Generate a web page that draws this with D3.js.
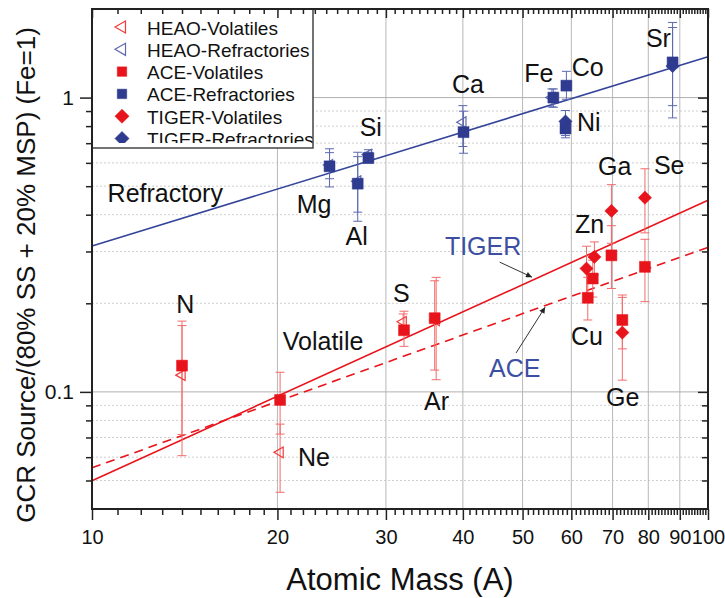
<!DOCTYPE html>
<html>
<head>
<meta charset="utf-8">
<script src="https://cdn.jsdelivr.net/npm/d3@7"></script>
<style>
  body { margin: 0; background: #fff; }
  svg { font-family: "Liberation Sans", Arial, sans-serif; }
</style>
</head>
<body>
<svg id="chart" width="725" height="598"></svg>
<script>
// ---- data (atomic mass a, ratio v, error bar lo/hi) ----
const heaoVolatiles = [
  {el: 'N',  a: 14.0, v: 0.114,  lo: 0.0607, hi: 0.168},
  {el: 'Ne', a: 20.2, v: 0.0623, lo: 0.0456, hi: 0.0777},
  {el: 'S',  a: 32.0, v: 0.173,  lo: 0.160,  hi: 0.184},
  {el: 'Ar', a: 36.2, v: 0.175,  lo: 0.110,  hi: 0.245}
];
const heaoRefractories = [
  {el: 'Mg', a: 24.3, v: 0.59,  lo: 0.53,  hi: 0.65},
  {el: 'Al', a: 27.0, v: 0.52,  lo: 0.408, hi: 0.63},
  {el: 'Si', a: 28.1, v: 0.64,  lo: 0.61,  hi: 0.665},
  {el: 'Ca', a: 40.0, v: 0.825, lo: 0.682, hi: 0.939},
  {el: 'Fe', a: 55.8, v: 1.0,   lo: 0.93,  hi: 1.07}
];
const aceVolatiles = [
  {el: 'N',  a: 14.0, v: 0.1228, lo: 0.0716, hi: 0.174},
  {el: 'Ne', a: 20.2, v: 0.0939, lo: 0.0719, hi: 0.1166},
  {el: 'S',  a: 32.1, v: 0.162,  lo: 0.1428, hi: 0.188},
  {el: 'Ar', a: 36.0, v: 0.178,  lo: 0.1186, hi: 0.2385},
  {el: 'Cu', a: 63.8, v: 0.2088, lo: 0.1755, hi: 0.245},
  {el: 'Zn', a: 65.0, v: 0.2428, lo: 0.21,   hi: 0.28},
  {el: 'Ga', a: 69.7, v: 0.291,  lo: 0.2246, hi: 0.367},
  {el: 'Ge', a: 72.6, v: 0.1755, lo: 0.14,   hi: 0.2095},
  {el: 'Se', a: 79.0, v: 0.266,  lo: 0.2026, hi: 0.33}
];
const aceRefractories = [
  {el: 'Mg', a: 24.3, v: 0.584, lo: 0.497, hi: 0.670},
  {el: 'Al', a: 27.0, v: 0.51,  lo: 0.38,  hi: 0.652},
  {el: 'Si', a: 28.1, v: 0.623, lo: 0.60,  hi: 0.652},
  {el: 'Ca', a: 40.1, v: 0.763, lo: 0.647, hi: 0.899},
  {el: 'Fe', a: 56.1, v: 1.0,   lo: 0.927, hi: 1.07},
  {el: 'Co', a: 58.9, v: 1.098, lo: 0.987, hi: 1.228},
  {el: 'Ni', a: 58.7, v: 0.785, lo: 0.730, hi: 0.84},
  {el: 'Sr', a: 87.6, v: 1.317, lo: 0.853, hi: 1.80}
];
const tigerVolatiles = [
  {el: 'Cu', a: 63.5, v: 0.2625, lo: 0.215,  hi: 0.3126},
  {el: 'Zn', a: 65.4, v: 0.2875, lo: 0.25,   hi: 0.3233},
  {el: 'Ga', a: 69.7, v: 0.412,  lo: 0.32,   hi: 0.506},
  {el: 'Ge', a: 72.6, v: 0.159,  lo: 0.1096, hi: 0.2134},
  {el: 'Se', a: 79.0, v: 0.457,  lo: 0.347,  hi: 0.573}
];
const tigerRefractories = [
  {el: 'Ni', a: 58.7, v: 0.83, lo: 0.743, hi: 0.904},
  {el: 'Sr', a: 87.6, v: 1.28, lo: 0.939, hi: 1.73}
];

// power-law fits, end points [A, ratio]
const refractoryFit = [[10, 0.313], [100, 1.377]];
const tigerFit = [[10, 0.0499], [100, 0.448]];
const aceFit = [[10, 0.0552], [100, 0.310]];

// axis ticks
const xMajor = [10, 20, 30, 40, 50, 60, 70, 80, 90, 100];
const xTickLabels = ['10', '20', '30', '40', '50', '60', '70', '80', '90', '100'];
const xMinor = d3.range(11, 100).filter(d => d % 10 !== 0);
const yMajor = [0.1, 1];
const yTickLabels = ['0.1', '1'];
const yMinor = [0.05, 0.06, 0.07, 0.08, 0.09, 0.2, 0.3, 0.4, 0.5, 0.6, 0.7, 0.8, 0.9];

// text annotations, anchored in data space (left/baseline)
const elementLabels = [
  {t: 'N', a: 13.7, v: 0.1853}, {t: 'Ne', a: 21.6, v: 0.0561},
  {t: 'S', a: 30.8, v: 0.202}, {t: 'Ar', a: 34.6, v: 0.0869},
  {t: 'Mg', a: 21.5, v: 0.404}, {t: 'Al', a: 25.8, v: 0.315},
  {t: 'Si', a: 27.2, v: 0.738}, {t: 'Ca', a: 38.4, v: 1.04},
  {t: 'Fe', a: 50.3, v: 1.133}, {t: 'Co', a: 60.1, v: 1.187},
  {t: 'Ni', a: 61.3, v: 0.773}, {t: 'Sr', a: 79.3, v: 1.489},
  {t: 'Ga', a: 66.3, v: 0.544}, {t: 'Se', a: 81.7, v: 0.548},
  {t: 'Zn', a: 60.8, v: 0.346}, {t: 'Cu', a: 59.9, v: 0.1443},
  {t: 'Ge', a: 68.3, v: 0.0897},
  {t: 'Refractory', a: 10.6, v: 0.441}, {t: 'Volatile', a: 20.4, v: 0.1388}
];
const fitLabels = [
  {t: 'TIGER', a: 37.4, v: 0.291, from: [45.9, 0.276], to: [51.8, 0.2454]},
  {t: 'ACE', a: 44.1, v: 0.1124, from: [48.8, 0.1356], to: [54.4, 0.194]}
];

// ---- styles ----
const red = '#e8141b', redBar = '#f36b6b';
const blue = '#2e3b8f', blueBar = '#5d69af';

const series = [
  {name: 'HEAO-Volatiles', data: heaoVolatiles, shape: 'tri', color: '#f03c3c', bar: redBar},
  {name: 'HEAO-Refractories', data: heaoRefractories, shape: 'tri', color: '#5d69af', bar: blueBar},
  {name: 'ACE-Volatiles', data: aceVolatiles, shape: 'square', color: red, bar: redBar},
  {name: 'ACE-Refractories', data: aceRefractories, shape: 'square', color: blue, bar: blueBar},
  {name: 'TIGER-Volatiles', data: tigerVolatiles, shape: 'diamond', color: red, bar: redBar},
  {name: 'TIGER-Refractories', data: tigerRefractories, shape: 'diamond', color: blue, bar: blueBar}
];

// ---- set up plot area ----
const svg = d3.select('#chart');
const margin = {top: 9, right: 17, bottom: 89, left: 92};
const width = 725 - margin.left - margin.right;
const height = 598 - margin.top - margin.bottom;

const g = svg.append('g')
  .attr('transform', `translate(${margin.left},${margin.top})`);

const x = d3.scaleLog().domain([10, 100]).range([0, width]);
const y = d3.scaleLog().domain([0.04, 2]).range([height, 0]);

// grid
g.append('g').selectAll('line')
  .data(yMinor).join('line')
  .attr('x1', 0).attr('x2', width)
  .attr('y1', d => y(d)).attr('y2', d => y(d))
  .attr('stroke', '#cfcfcf').attr('stroke-dasharray', '2,2');
g.append('g').selectAll('line')
  .data(xMajor.slice(1, -1)).join('line')
  .attr('x1', d => x(d)).attr('x2', d => x(d))
  .attr('y1', 0).attr('y2', height)
  .attr('stroke', '#b8b8b8');
g.append('g').selectAll('line')
  .data(yMajor).join('line')
  .attr('x1', 0).attr('x2', width)
  .attr('y1', d => y(d)).attr('y2', d => y(d))
  .attr('stroke', '#b0b0b0');

// fit lines
const line = d3.line().x(d => x(d[0])).y(d => y(d[1]));
g.append('path').datum(refractoryFit).attr('d', line)
  .attr('fill', 'none').attr('stroke', '#34449a').attr('stroke-width', 1.6);
g.append('path').datum(tigerFit).attr('d', line)
  .attr('fill', 'none').attr('stroke', red).attr('stroke-width', 1.6);
g.append('path').datum(aceFit).attr('d', line)
  .attr('fill', 'none').attr('stroke', red).attr('stroke-width', 1.6)
  .attr('stroke-dasharray', '9,6');

// error bars
series.forEach(s => {
  const eb = g.append('g').attr('stroke', s.bar).attr('stroke-width', 1);
  eb.selectAll('.stem').data(s.data).join('line')
    .attr('x1', d => x(d.a)).attr('x2', d => x(d.a))
    .attr('y1', d => y(d.lo)).attr('y2', d => y(d.hi));
  eb.selectAll('.cap').data(s.data.flatMap(d => [[d.a, d.lo], [d.a, d.hi]])).join('line')
    .attr('x1', d => x(d[0]) - 4.5).attr('x2', d => x(d[0]) + 4.5)
    .attr('y1', d => y(d[1])).attr('y2', d => y(d[1]));
});

// markers
function symbolFor(shape) {
  if (shape === 'square') return {path: d3.symbol(d3.symbolSquare, 120)(), rot: 0, fill: true};
  if (shape === 'diamond') return {path: d3.symbol(d3.symbolSquare, 88)(), rot: 45, fill: true};
  return {path: d3.symbol(d3.symbolTriangle, 50)(), rot: -90, fill: false};
}
function drawMark(sel, s) {
  const sym = symbolFor(s.shape);
  sel.attr('d', sym.path)
    .attr('fill', sym.fill ? s.color : 'none')
    .attr('stroke', s.color)
    .attr('stroke-width', sym.fill ? 0.5 : 1.2);
}
series.forEach(s => {
  const rot = symbolFor(s.shape).rot;
  g.append('g').selectAll('path').data(s.data).join('path')
    .call(sel => drawMark(sel, s))
    .attr('transform', d => `translate(${x(d.a)},${y(d.v)}) rotate(${rot})`);
});

// labels
g.append('g').selectAll('text').data(elementLabels).join('text')
  .attr('x', d => x(d.a)).attr('y', d => y(d.v))
  .attr('font-size', 25).attr('fill', '#111')
  .text(d => d.t);

svg.append('defs').append('marker')
  .attr('id', 'arrow').attr('viewBox', '0 0 10 10')
  .attr('refX', 10).attr('refY', 5)
  .attr('markerWidth', 10).attr('markerHeight', 6)
  .attr('markerUnits', 'userSpaceOnUse')
  .attr('orient', 'auto')
  .append('path').attr('d', 'M0,0L10,5L0,10z').attr('fill', '#222');

g.append('g').selectAll('text').data(fitLabels).join('text')
  .attr('x', d => x(d.a)).attr('y', d => y(d.v))
  .attr('font-size', 25).attr('fill', '#3c4fa3')
  .text(d => d.t);
g.append('g').selectAll('line').data(fitLabels).join('line')
  .attr('x1', d => x(d.from[0])).attr('y1', d => y(d.from[1]))
  .attr('x2', d => x(d.to[0])).attr('y2', d => y(d.to[1]))
  .attr('stroke', '#333').attr('stroke-width', 1)
  .attr('marker-end', 'url(#arrow)');

// legend (last row is cut off by the box, as in the source figure)
const legendBox = {w: 221, h: 139};
svg.select('defs').append('clipPath').attr('id', 'legclip')
  .append('rect').attr('width', legendBox.w).attr('height', legendBox.h - 5);
const leg = g.append('g');
leg.append('rect')
  .attr('width', legendBox.w).attr('height', legendBox.h)
  .attr('fill', '#fff');
const legItems = leg.append('g').attr('clip-path', 'url(#legclip)');
const rowY = d3.scalePoint().domain(series.map(s => s.name)).range([18, 129.5]);
series.forEach(s => {
  const sym = symbolFor(s.shape);
  const size = s.shape === 'square' ? 90 : (s.shape === 'diamond' ? 100 : 64);
  const p = {tri: d3.symbolTriangle, square: d3.symbolSquare, diamond: d3.symbolSquare}[s.shape];
  legItems.append('path')
    .attr('d', d3.symbol(p, size)())
    .attr('fill', sym.fill ? s.color : 'none')
    .attr('stroke', s.color).attr('stroke-width', sym.fill ? 0.5 : 1.2)
    .attr('transform', `translate(30,${rowY(s.name)}) rotate(${sym.rot})`);
  legItems.append('text')
    .attr('x', 55).attr('y', rowY(s.name) + 7.5)
    .attr('font-size', 19).attr('fill', '#111')
    .text(s.name);
});
leg.append('rect')
  .attr('width', legendBox.w).attr('height', legendBox.h)
  .attr('fill', 'none').attr('stroke', '#444').attr('stroke-width', 1.5);

// axes
function styleAxis(sel, fontSize) {
  sel.select('.domain').remove();
  sel.selectAll('line').attr('stroke', '#222').attr('stroke-width', 1.5);
  sel.selectAll('text').attr('font-size', fontSize).attr('fill', '#111')
    .attr('font-family', '"Liberation Sans", Arial, sans-serif');
}
g.append('g').attr('transform', `translate(0,${height})`)
  .call(d3.axisBottom(x).tickValues(xMajor).tickFormat((d, i) => xTickLabels[i])
    .tickSize(11).tickPadding(10))
  .call(sel => styleAxis(sel, 20));
g.append('g').attr('transform', `translate(0,${height})`)
  .call(d3.axisBottom(x).tickValues(xMinor).tickFormat('').tickSize(6))
  .call(sel => styleAxis(sel, 20));
g.append('g')
  .call(d3.axisBottom(x).tickValues(xMajor).tickFormat('').tickSize(9))
  .call(sel => styleAxis(sel, 20));
g.append('g')
  .call(d3.axisBottom(x).tickValues(xMinor).tickFormat('').tickSize(5))
  .call(sel => styleAxis(sel, 20));
g.append('g')
  .call(d3.axisLeft(y).tickValues(yMajor).tickFormat((d, i) => yTickLabels[i])
    .tickSize(12).tickPadding(6))
  .call(sel => styleAxis(sel, 21));
g.append('g')
  .call(d3.axisLeft(y).tickValues(yMinor).tickFormat('').tickSize(6))
  .call(sel => styleAxis(sel, 21));
g.append('g').attr('transform', `translate(${width},0)`)
  .call(d3.axisLeft(y).tickValues(yMajor).tickFormat('').tickSize(10))
  .call(sel => styleAxis(sel, 21));
g.append('g').attr('transform', `translate(${width},0)`)
  .call(d3.axisLeft(y).tickValues(yMinor).tickFormat('').tickSize(6))
  .call(sel => styleAxis(sel, 21));

// frame
g.append('rect').attr('width', width).attr('height', height)
  .attr('fill', 'none').attr('stroke', '#222').attr('stroke-width', 2);

// axis titles
svg.append('text')
  .attr('x', margin.left + width / 2).attr('y', 590)
  .attr('text-anchor', 'middle').attr('font-size', 31).attr('fill', '#111')
  .text('Atomic Mass (A)');
svg.append('text')
  .attr('transform', 'translate(35,275) rotate(-90)')
  .attr('text-anchor', 'middle').attr('font-size', 26).attr('fill', '#111')
  .text('GCR Source/(80% SS + 20% MSP) (Fe=1)');
</script>
</body>
</html>
